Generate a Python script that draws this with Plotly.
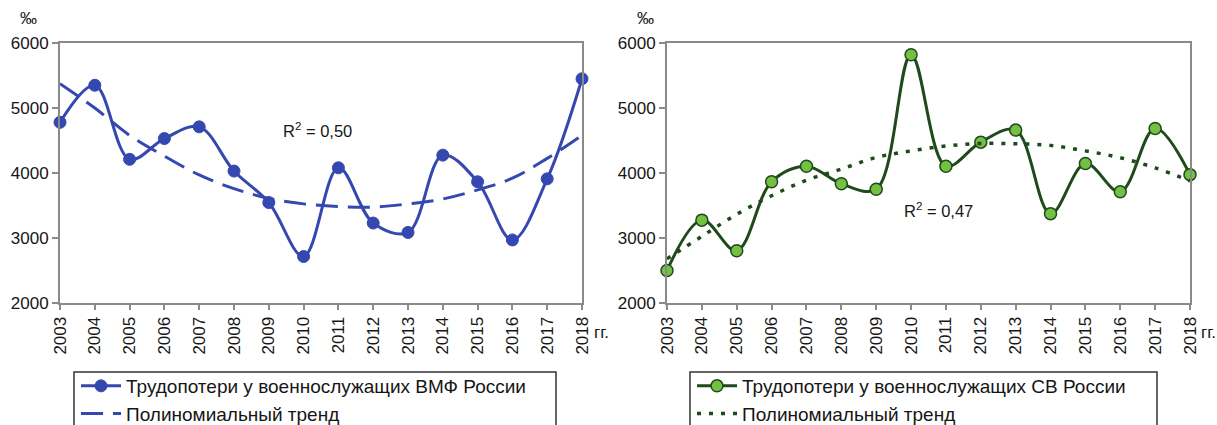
import plotly.graph_objects as go

years = list(range(2003, 2019))
year_labels = [str(y) for y in years]

# Трудопотери у военнослужащих ВМФ России, ‰
navy_values = [4780, 5350, 4210, 4530, 4710, 4030, 3545, 2715, 4080, 3230,
               3085, 4275, 3865, 2970, 3910, 5450]
navy_trend = [5375, 5000, 4580, 4260, 3970, 3760, 3610, 3525, 3485, 3475,
              3525, 3600, 3740, 3920, 4225, 4580]

# Трудопотери у военнослужащих СВ России, ‰
army_values = [2500, 3275, 2805, 3865, 4105, 3835, 3750, 5820, 4105, 4475,
               4660, 3375, 4145, 3710, 4685, 3975]
army_trend = [2680, 3025, 3365, 3650, 3890, 4060, 4240, 4340, 4415, 4455,
              4450, 4425, 4340, 4235, 4080, 3880]

navy_r2 = "R<sup>2</sup> = 0,50"
army_r2 = "R<sup>2</sup> = 0,47"

y_ticks = [2000, 3000, 4000, 5000, 6000]

BLUE = "#3548b0"
DGREEN = "#1e4a1c"
LGREEN = "#74c043"
FRAME = "#8a8a8a"
INK = "#161616"
FONT = "Liberation Sans, Arial, sans-serif"

W, H = 1217, 425


def fx(px):
    return px / W


def fy(py):
    return 1 - py / H


fig = go.Figure()

# left panel
fig.add_trace(go.Scatter(
    x=years, y=navy_values, mode="lines+markers", cliponaxis=False,
    line=dict(color=BLUE, width=3, shape="spline", smoothing=1.0),
    marker=dict(size=12, color=BLUE, line=dict(color=BLUE, width=1)),
    name="Трудопотери у военнослужащих ВМФ России",
    xaxis="x", yaxis="y", legend="legend"))
fig.add_trace(go.Scatter(
    x=years, y=navy_trend, mode="lines",
    line=dict(color=BLUE, width=3, dash="22px,10px", shape="spline"),
    name="Полиномиальный тренд",
    xaxis="x", yaxis="y", legend="legend"))

# right panel
fig.add_trace(go.Scatter(
    x=years, y=army_values, mode="lines+markers", cliponaxis=False,
    line=dict(color=DGREEN, width=3, shape="spline", smoothing=1.0),
    marker=dict(size=12, color=LGREEN, line=dict(color=DGREEN, width=1.5)),
    name="Трудопотери у военнослужащих СВ России",
    xaxis="x2", yaxis="y2", legend="legend2"))
fig.add_trace(go.Scatter(
    x=years, y=army_trend, mode="lines",
    line=dict(color=DGREEN, width=3.5, dash="4px,8px", shape="spline"),
    name="Полиномиальный тренд",
    xaxis="x2", yaxis="y2", legend="legend2"))

xaxis_common = dict(
    range=[2003, 2018], tickmode="array", tickvals=years, ticktext=year_labels,
    tickangle=-90, ticks="outside", ticklen=5, tickcolor=FRAME, tickwidth=1.5,
    showline=True, linecolor=FRAME, linewidth=2, mirror=True,
    showgrid=False, zeroline=False,
    tickfont=dict(family=FONT, size=17, color=INK),
)
yaxis_common = dict(
    range=[2000, 6000], tickmode="array", tickvals=y_ticks,
    ticks="outside", ticklen=6, tickcolor=FRAME, tickwidth=1.5,
    showline=True, linecolor=FRAME, linewidth=2, mirror=True,
    showgrid=False, zeroline=False,
    tickfont=dict(family=FONT, size=17, color=INK),
)

# legend frames are drawn as shapes so they can run past the bottom edge
legend_common = dict(
    bgcolor="rgba(0,0,0,0)", borderwidth=0,
    font=dict(family=FONT, size=19, color=INK),
    xanchor="left", yanchor="top", tracegroupgap=0, itemwidth=40,
)

fig.update_layout(
    width=W, height=H,
    margin=dict(l=0, r=0, t=0, b=0, autoexpand=False),
    paper_bgcolor="white", plot_bgcolor="white",
    font=dict(family=FONT, color=INK),
    xaxis=dict(domain=[fx(60), fx(582)], anchor="y", **xaxis_common),
    yaxis=dict(domain=[fy(303), fy(43)], anchor="x", **yaxis_common),
    xaxis2=dict(domain=[fx(667), fx(1190)], anchor="y2", **xaxis_common),
    yaxis2=dict(domain=[fy(303), fy(43)], anchor="x2", **yaxis_common),
    legend=dict(x=fx(76), y=fy(367), **legend_common),
    legend2=dict(x=fx(692), y=fy(367), **legend_common),
    showlegend=True,
)

box_style = dict(type="rect", xref="paper", yref="paper",
                 line=dict(color="#333", width=1.5), fillcolor="rgba(0,0,0,0)",
                 layer="below")
fig.add_shape(x0=fx(74), x1=fx(556), y0=fy(372), y1=fy(440), **box_style)
fig.add_shape(x0=fx(690), x1=fx(1157), y0=fy(372), y1=fy(440), **box_style)

annotations = [
    dict(text=navy_r2, x=2010.4, y=4660, xref="x", yref="y", showarrow=False,
         font=dict(family=FONT, size=16.5, color=INK)),
    dict(text=army_r2, x=2010.8, y=3430, xref="x2", yref="y2", showarrow=False,
         font=dict(family=FONT, size=16.5, color=INK)),
    dict(text="‰", x=fx(29), y=fy(19), xref="paper", yref="paper",
         xanchor="center", yanchor="middle", showarrow=False,
         font=dict(family=FONT, size=17, color=INK)),
    dict(text="‰", x=fx(645), y=fy(19), xref="paper", yref="paper",
         xanchor="center", yanchor="middle", showarrow=False,
         font=dict(family=FONT, size=17, color=INK)),
    dict(text="гг.", x=fx(592), y=fy(332), xref="paper", yref="paper",
         xanchor="left", yanchor="middle", showarrow=False,
         font=dict(family=FONT, size=17, color=INK)),
    dict(text="гг.", x=fx(1199), y=fy(332), xref="paper", yref="paper",
         xanchor="left", yanchor="middle", showarrow=False,
         font=dict(family=FONT, size=17, color=INK)),
]
fig.update_layout(annotations=annotations)

fig.write_html("out.html")
